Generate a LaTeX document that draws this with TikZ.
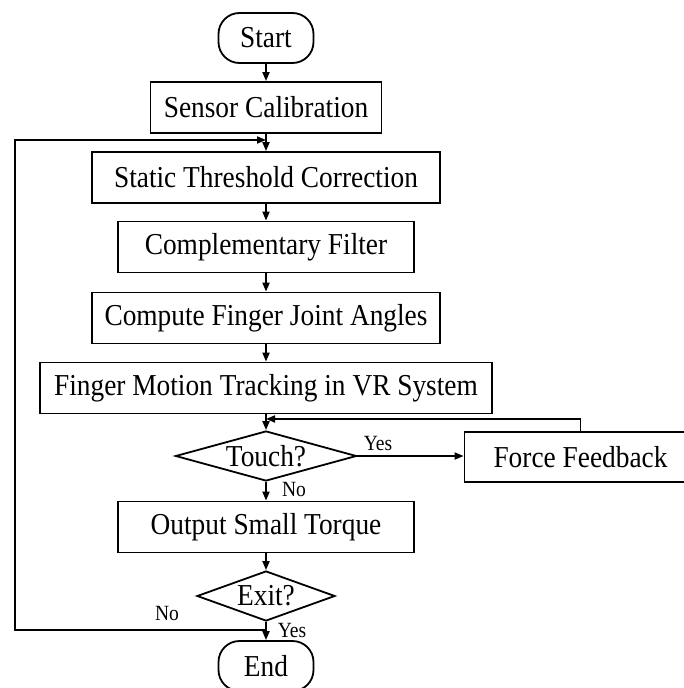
\documentclass[tikz,border=0pt]{standalone}
\usepackage{fontspec}
\setmainfont[FakeStretch=0.9]{Liberation Serif}
\usetikzlibrary{shapes.geometric,arrows.meta}
\tikzset{
  box/.style={draw, line width=1.8pt, rectangle, minimum height=51pt, inner sep=0pt, font=\fontsize{30.4}{36}\selectfont},
  term/.style={draw, line width=1.8pt, rectangle, rounded corners=21pt, minimum width=95pt, minimum height=50pt, inner sep=0pt, font=\fontsize{30.4}{36}\selectfont},
  dec/.style={draw, line width=1.8pt, diamond, inner sep=0pt, minimum height=50pt, font=\fontsize{30.4}{36}\selectfont},
  lbl/.style={inner sep=0pt, font=\fontsize{21.7}{26}\selectfont},
  arr/.style={line width=1.8pt, -{Triangle[length=9pt,width=7pt]}}
}
\begin{document}
\begin{tikzpicture}[x=1pt,y=-1pt]
\clip (0,0) rectangle (684,688);
\fill[white] (0,0) rectangle (684,688);
\node[term] (start) at (266,38) {Start};
\node[box, minimum width=231pt] (sensor) at (266,107.5) {Sensor Calibration};
\node[box, minimum width=348pt] (static) at (266,177.5) {Static Threshold Correction};
\node[box, minimum width=296pt] (comp) at (266,247) {Complementary Filter};
\node[box, minimum width=348pt] (angles) at (266,318) {Compute Finger Joint Angles};
\node[box, minimum width=452pt] (track) at (266,388) {Finger Motion Tracking in VR System};
\node[dec, minimum width=181pt, aspect=3.62] (touch) at (266,456) {Touch?};
\node[box, minimum width=232pt, minimum height=50pt] (force) at (580.5,457) {Force Feedback};
\node[box, minimum width=296pt] (torque) at (266,527) {Output Small Torque};
\node[dec, minimum width=138pt, aspect=2.76] (exit) at (266,596) {Exit?};
\node[term] (endn) at (266,666) {End};

\coordinate (j1) at (266,140);
\coordinate (j2) at (266,419);
\coordinate (j3) at (266,630);
\coordinate (l1) at (15,630);
\coordinate (l2) at (15,140);
\coordinate (f1) at (force.north |- j2);

\draw[arr] (start) -- (sensor);
\draw[arr] (sensor) -- (static);
\draw[arr] (static) -- (comp);
\draw[arr] (comp) -- (angles);
\draw[arr] (angles) -- (track);
\draw[arr] (track) -- (touch);
\draw[arr] (touch.east) -- (force.west |- touch.east);
\draw[arr] (force.north) -- (f1) -- (j2);
\draw[arr] (touch) -- (torque);
\draw[arr] (torque) -- (exit);
\draw[arr] (exit) -- (endn);
\draw[arr] (j3) -- (l1) -- (l2) -- (j1);

\node[lbl] (yes1) at (378,443) {Yes};
\node[lbl] (no1) at (294,489) {No};
\node[lbl] (no2) at (167,613) {No};
\node[lbl] (yes2) at (292,630) {Yes};
\end{tikzpicture}
\end{document}
